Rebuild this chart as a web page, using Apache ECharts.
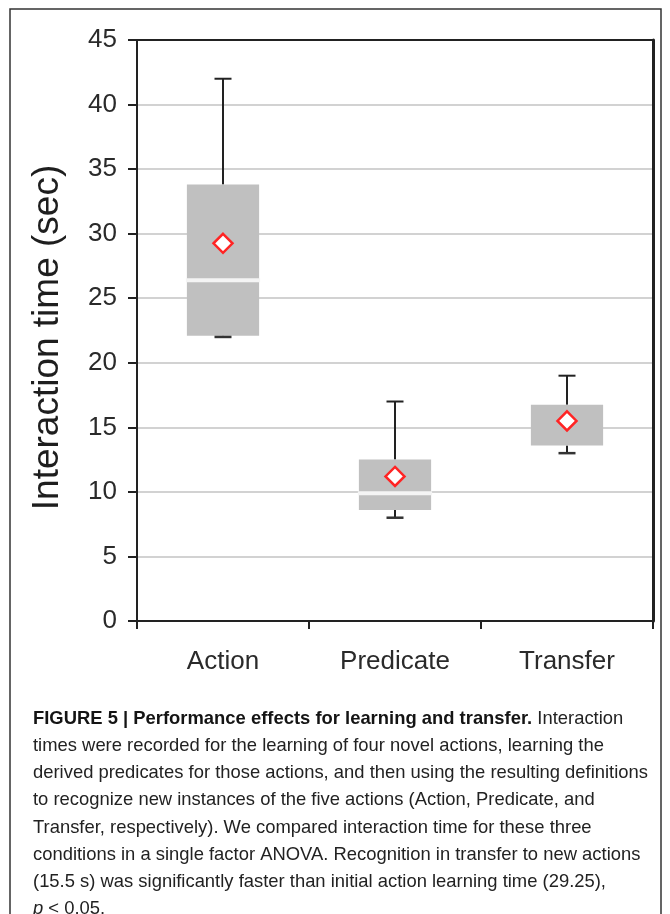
<!DOCTYPE html>
<html>
<head>
<meta charset="utf-8">
<script src="https://cdn.jsdelivr.net/npm/echarts@6/dist/echarts.min.js"></script>
<style>
  html, body { margin: 0; padding: 0; background: #ffffff; }
  #chart { width: 670px; height: 914px; }
</style>
</head>
<body>
<div id="chart"></div>
<script>
const categories = ['Action', 'Predicate', 'Transfer'];
const whiskerLow = [22.0, 8.0, 13.0];
const q1 = [22.1, 8.6, 13.6];
const median = [26.4, 9.9, null];
const q3 = [33.8, 12.5, 16.75];
const whiskerHigh = [42.0, 17.0, 19.0];
const means = [29.25, 11.2, 15.5];
const yTicks = { min: 0, max: 45, interval: 5 };

const captionLines = [
  '{b|FIGURE 5 | Performance effects for learning and transfer.} Interaction',
  'times were recorded for the learning of four novel actions, learning the',
  'derived predicates for those actions, and then using the resulting definitions',
  'to recognize new instances of the five actions (Action, Predicate, and',
  'Transfer, respectively). We compared interaction time for these three',
  'conditions in a single factor ANOVA. Recognition in transfer to new actions',
  '(15.5 s) was significantly faster than initial action learning time (29.25),',
  '{i|p} < 0.05.'
];

const boxData = categories.map((c, i) => [i, whiskerLow[i], q1[i], median[i] === null ? '-' : median[i], q3[i], whiskerHigh[i]]);
const meanData = categories.map((c, i) => [i, means[i]]);

const chart = echarts.init(document.getElementById('chart'), null, { renderer: 'canvas' });

function renderBox(params, api) {
  const x = api.value(0);
  const pLow = api.coord([x, api.value(1)]);
  const pQ1 = api.coord([x, api.value(2)]);
  const medV = api.value(3);
  const pQ3 = api.coord([x, api.value(4)]);
  const pHigh = api.coord([x, api.value(5)]);
  const band = api.size([1, 0])[0];
  const bw = band * 0.42;
  const cap = 17;
  const cx = pQ1[0];
  const lineStyle = { stroke: '#222', lineWidth: 2 };
  const children = [
    { type: 'line', shape: { x1: cx, y1: pQ3[1], x2: cx, y2: pHigh[1] }, style: lineStyle },
    { type: 'line', shape: { x1: cx - cap / 2, y1: pHigh[1], x2: cx + cap / 2, y2: pHigh[1] }, style: lineStyle },
    { type: 'line', shape: { x1: cx, y1: pQ1[1], x2: cx, y2: pLow[1] }, style: lineStyle },
    { type: 'rect', shape: { x: cx - bw / 2, y: pQ3[1], width: bw, height: pQ1[1] - pQ3[1] }, style: { fill: '#c0c0c0' } },
    { type: 'line', shape: { x1: cx - cap / 2, y1: pLow[1], x2: cx + cap / 2, y2: pLow[1] }, style: { stroke: '#333', lineWidth: 2.5 } }
  ];
  if (!isNaN(medV)) {
    const pMed = api.coord([x, medV]);
    children.push({ type: 'rect', shape: { x: cx - bw / 2 - 1, y: pMed[1] - 2, width: bw + 2, height: 4 }, style: { fill: '#f4f4f4' } });
  }
  return { type: 'group', children: children };
}

const capFont = '"Liberation Sans", Arial, sans-serif';
const capSize = 19;
const mctx = document.createElement('canvas').getContext('2d');
mctx.font = capSize + 'px ' + capFont;
const capScale = 615 / mctx.measureText(captionLines[2]).width;

const captionGraphics = captionLines.map((t, i) => ({
  type: 'text',
  x: 33,
  y: 709 + i * 27.2,
  scaleX: capScale,
  style: {
    text: t,
    fill: '#222',
    font: capSize + 'px ' + capFont,
    rich: {
      b: { fontWeight: 'bold', fontSize: capSize, fontFamily: capFont, fill: '#141414' },
      i: { fontStyle: 'italic', fontSize: capSize, fontFamily: capFont, fill: '#222' }
    }
  }
}));

const option = {
  animation: false,
  backgroundColor: '#ffffff',
  grid: { left: 137, right: 17, top: 40, bottom: 293 },
  xAxis: [{
    type: 'category',
    data: categories,
    boundaryGap: true,
    axisLine: { show: true, onZero: false, lineStyle: { color: '#222', width: 2 } },
    axisTick: { show: true, alignWithLabel: false, length: 8, lineStyle: { color: '#222', width: 2 } },
    axisLabel: { margin: 28, fontSize: 26, color: '#2a2a2a', fontFamily: '"Liberation Sans", Arial, sans-serif' },
    splitLine: { show: false }
  }, {
    type: 'category',
    data: categories,
    position: 'top',
    axisLine: { show: true, onZero: false, lineStyle: { color: '#222', width: 2 } },
    axisTick: { show: false },
    axisLabel: { show: false },
    splitLine: { show: false }
  }],
  yAxis: [{
    type: 'value',
    min: yTicks.min, max: yTicks.max, interval: yTicks.interval,
    name: 'Interaction time (sec)',
    nameLocation: 'middle',
    nameRotate: 90,
    nameGap: 71,
    nameTextStyle: { fontSize: 37, color: '#1e1e1e', fontFamily: '"Liberation Sans", Arial, sans-serif', padding: [0, 14, 0, 0] },
    axisLine: { show: true, onZero: false, lineStyle: { color: '#222', width: 2 } },
    axisTick: { show: true, inside: false, length: 9, lineStyle: { color: '#222', width: 2 } },
    axisLabel: { margin: 20, fontSize: 26, color: '#2a2a2a', fontFamily: '"Liberation Sans", Arial, sans-serif' },
    splitLine: { show: true, lineStyle: { color: '#d2d2d2', width: 2 } }
  }, {
    type: 'value',
    min: yTicks.min, max: yTicks.max, interval: yTicks.interval,
    position: 'right',
    axisLine: { show: true, onZero: false, lineStyle: { color: '#222', width: 3 } },
    axisTick: { show: false },
    axisLabel: { show: false },
    splitLine: { show: false }
  }],
  series: [
    {
      type: 'custom',
      renderItem: renderBox,
      data: boxData,
      encode: { x: 0, y: [1, 2, 4, 5] },
      clip: false,
      z: 3
    },
    {
      type: 'scatter',
      data: meanData,
      symbol: 'diamond',
      symbolSize: [19, 19],
      itemStyle: { color: '#ffffff', borderColor: '#ff2424', borderWidth: 2.5, opacity: 1 },
      z: 5
    }
  ],
  graphic: [
    { type: 'rect', shape: { x: 10, y: 9, width: 651, height: 930 }, style: { fill: null, stroke: '#333', lineWidth: 1.5 }, z: 10 }
  ].concat(captionGraphics)
};

chart.setOption(option);
</script>
</body>
</html>
